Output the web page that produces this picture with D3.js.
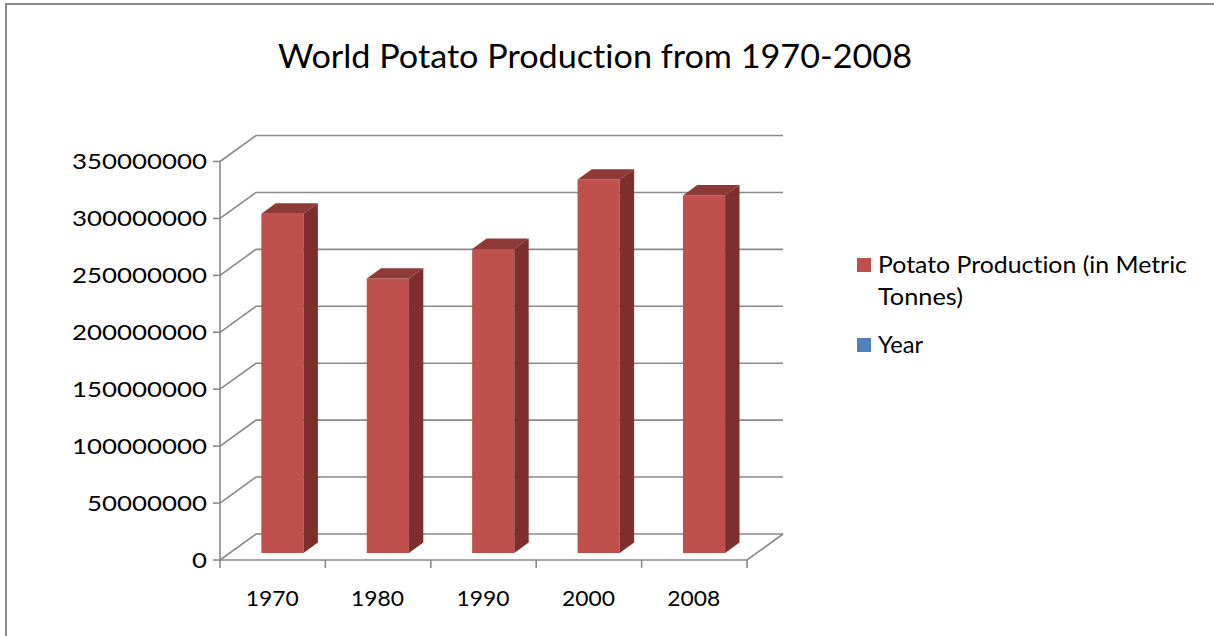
<!DOCTYPE html>
<html>
<head>
<meta charset="utf-8">
<script src="https://cdn.jsdelivr.net/npm/d3@7"></script>
<style>
  html, body { margin: 0; padding: 0; background: #fff; }
  svg { display: block; }
  text { font-family: Lato, "Open Sans", sans-serif; fill: #000; font-variant-ligatures: none; font-feature-settings: "liga" 0, "clig" 0; }
</style>
</head>
<body>
<svg id="chart" width="1214" height="636"></svg>
<script>
// World potato production, metric tonnes
const years = ["1970", "1980", "1990", "2000", "2008"];
const production = [298000000, 241000000, 267000000, 328000000, 314000000];
const yTicks = [0, 50000000, 100000000, 150000000, 200000000, 250000000, 300000000, 350000000];
const legendItems = ["Potato Production (in Metric|Tonnes)", "Year"];
const legendColors = ["#C0504D", "#4F81BD"];

const svg = d3.select("#chart");

// Outer chart frame (only the top and left edges are within view)
svg.append("rect")
  .attr("x", 6).attr("y", 4)
  .attr("width", 1300).attr("height", 700)
  .attr("fill", "none").attr("stroke", "#8a8a8a").attr("stroke-width", 2);

// Title
svg.append("text")
  .attr("x", 595).attr("y", 68)
  .attr("text-anchor", "middle")
  .attr("font-size", 33)
  .attr("textLength", 634).attr("lengthAdjust", "spacingAndGlyphs")
  .text("World Potato Production from 1970-2008");

// Oblique 3D projection: a point on the front plane shifted back by depth d in [0,1]
const DX = 36, DY = -26;
const proj = (x, y, d) => [x + d * DX, y + d * DY];

const x = d3.scaleBand().domain(years).range([220, 747]).paddingInner(0.6).paddingOuter(0.3);
const y = d3.scaleLinear().domain([0, 350000000]).range([560, 161.5]);

const gridColor = "#8a8a8a";
const line = d3.line();

const walls = svg.append("g").attr("fill", "none").attr("stroke", gridColor).attr("stroke-width", 1.6);

// Gridlines on the side wall (diagonal) and back wall (horizontal)
yTicks.forEach(t => {
  const yy = y(t);
  walls.append("path").attr("d", line([proj(220, yy, 0), proj(220, yy, 1), proj(747, yy, 1)]));
});

// Floor outline
walls.append("path").attr("d", line([proj(220, y(0), 0), proj(747, y(0), 0), proj(747, y(0), 1)]));

// Vertical axis line and ticks
walls.append("path").attr("d", line([[220, y(350000000)], [220, y(0)]]));
yTicks.forEach(t => {
  walls.append("path").attr("d", line([[213, y(t)], [220, y(t)]]));
});

// Category ticks along the front edge of the floor
const step = x.step();
d3.range(years.length + 1).forEach(i => {
  const xx = 220 + i * step;
  walls.append("path").attr("d", line([[xx, y(0)], [xx, y(0) + 8]]));
});

// Y tick labels
svg.append("g").selectAll("text").data(yTicks).join("text")
  .attr("x", 207).attr("y", d => y(d))
  .attr("dy", "0.36em")
  .attr("text-anchor", "end")
  .attr("font-size", 22)
  .each(function(d) {
    const s = String(d);
    d3.select(this).text(s).attr("textLength", s.length * 15).attr("lengthAdjust", "spacingAndGlyphs");
  });

// Category labels
svg.append("g").selectAll("text").data(years).join("text")
  .attr("x", d => x(d) + x.bandwidth() / 2 - 0.5)
  .attr("y", 606)
  .attr("text-anchor", "middle")
  .attr("font-size", 22)
  .attr("textLength", 53).attr("lengthAdjust", "spacingAndGlyphs")
  .text(d => d);

// 3D bars
const d0 = 0.27, d1 = 0.67;
const bars = svg.append("g");
years.forEach((yr, i) => {
  const v = production[i];
  const xl = x(yr), xr = x(yr) + x.bandwidth();
  const y0 = y(0), yv = y(v);
  const g = bars.append("g");
  g.append("path")
    .attr("d", line([proj(xl, y0, d0), proj(xl, yv, d0), proj(xr, yv, d0), proj(xr, y0, d0)]) + "Z")
    .attr("fill", "#C0504D");
  g.append("path")
    .attr("d", line([proj(xl, yv, d0), proj(xl, yv, d1), proj(xr, yv, d1), proj(xr, yv, d0)]) + "Z")
    .attr("fill", "#8E3A38");
  g.append("path")
    .attr("d", line([proj(xr, y0, d0), proj(xr, yv, d0), proj(xr, yv, d1), proj(xr, y0, d1)]) + "Z")
    .attr("fill", "#7C2F2D");
});

// Legend
const legend = svg.append("g");
const legendY = [258, 338];
const lineWidths = [[309, 85], [45]];
legendItems.forEach((label, i) => {
  legend.append("rect")
    .attr("x", 857).attr("y", legendY[i])
    .attr("width", 14).attr("height", 14)
    .attr("fill", legendColors[i]);
  label.split("|").forEach((part, j) => {
    legend.append("text")
      .attr("x", 878).attr("y", legendY[i] + 15 + j * 32)
      .attr("font-size", 23)
      .attr("textLength", lineWidths[i][j]).attr("lengthAdjust", "spacingAndGlyphs")
      .text(part);
  });
});
</script>
</body>
</html>
